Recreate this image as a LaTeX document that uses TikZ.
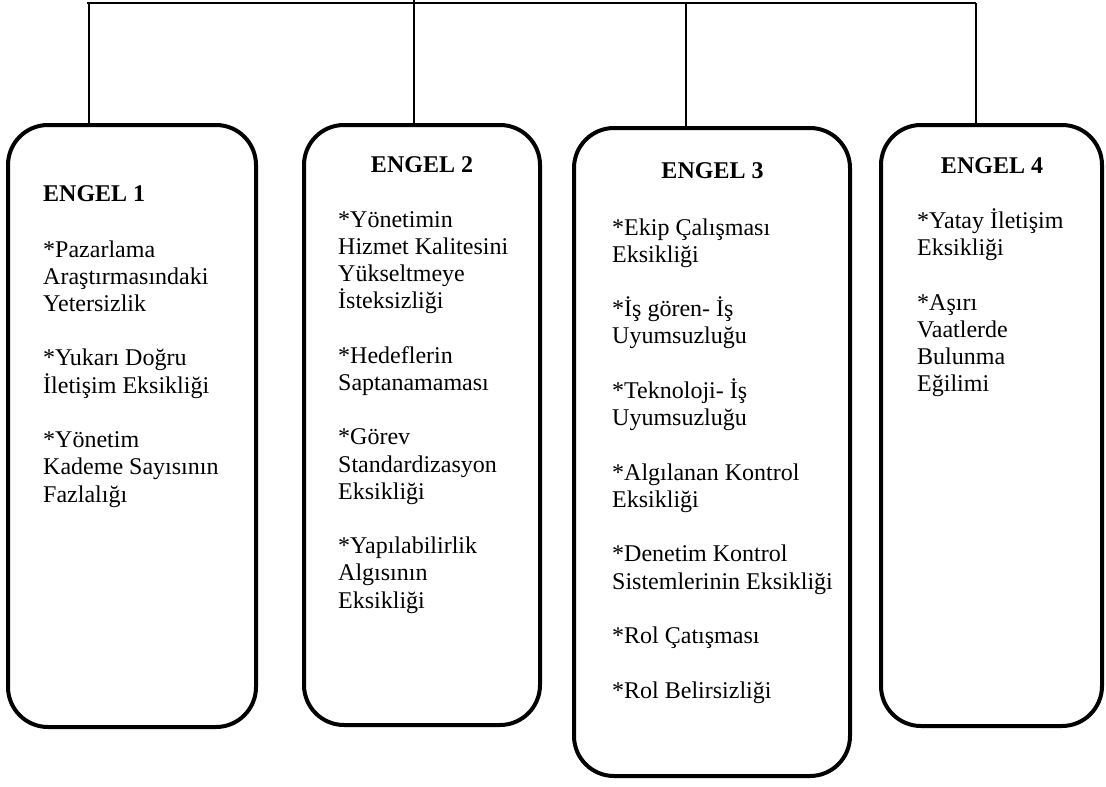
\documentclass[tikz,border=0pt]{standalone}
\usepackage{fontspec}
\setmainfont{Liberation Serif}
\begin{document}
\begin{tikzpicture}[x=1pt,y=-1pt,
  engelbox/.style={draw, line width=4pt, rounded corners=40pt, inner sep=0pt},
  link/.style={line width=1.3pt},
  heading/.style={font=\fontsize{24}{27.2}\selectfont\bfseries, inner sep=0pt},
  items/.style={font=\fontsize{24}{27.2}\selectfont, inner sep=0pt, anchor=base west}]
\useasboundingbox (0,0) rectangle (1106,787);

% the four boxes
\node[engelbox, minimum width=248pt, minimum height=602pt] (b1) at (132,426) {};
\node[engelbox, minimum width=236pt, minimum height=600pt] (b2) at (422,425) {};
\node[engelbox, minimum width=276pt, minimum height=648pt] (b3) at (712,452) {};
\node[engelbox, minimum width=221pt, minimum height=601pt] (b4) at (991.5,425.5) {};

% connecting bar along the top
\coordinate (tl) at (87,3);
\coordinate (tr) at (976,3);
\coordinate (t1) at (89,3);
\coordinate (t2) at (414,0);
\coordinate (t3) at (686,3);
\coordinate (t4) at (976,3);
\draw[link] (tl) -- (tr);
\draw[link] (t1) -- (t1 |- b1.north);
\draw[link] (t2) -- (t2 |- b2.north);
\draw[link] (t3) -- (t3 |- b3.north);
\draw[link] (t4) -- (t4 |- b4.north);

% headings
\node[heading, anchor=base west] (h1) at (43,201) {ENGEL 1};
\node[heading, anchor=base] (h2) at (422,172) {ENGEL 2};
\node[heading, anchor=base] (h3) at (712.5,178) {ENGEL 3};
\node[heading, anchor=base] (h4) at (992,173) {ENGEL 4};

% item lists
\node[items] (i1) at (43,257) {\parbox[t]{210pt}{\raggedright
*Pazarlama\\ Araştırmasındaki\\ Yetersizlik\\[27.3pt]
*Yukarı Doğru\\ İletişim Eksikliği\\[27.3pt]
*Yönetim\\ Kademe Sayısının\\ Fazlalığı}};

\node[items] (i2) at (338,227) {\parbox[t]{200pt}{\raggedright
*Yönetimin\\ Hizmet Kalitesini\\ Yükseltmeye\\ İsteksizliği\\[27.3pt]
*Hedeflerin\\ Saptanamaması\\[27.3pt]
*Görev\\ Standardizasyon\\ Eksikliği\\[27.3pt]
*Yapılabilirlik\\ Algısının\\ Eksikliği}};

\node[items] (i3) at (612,235) {\parbox[t]{236pt}{\raggedright
*Ekip Çalışması\\ Eksikliği\\[27.3pt]
*İş gören- İş\\ Uyumsuzluğu\\[27.3pt]
*Teknoloji- İş\\ Uyumsuzluğu\\[27.3pt]
*Algılanan Kontrol\\ Eksikliği\\[27.3pt]
*Denetim Kontrol\\ Sistemlerinin Eksikliği\\[27.3pt]
*Rol Çatışması\\[27.3pt]
*Rol Belirsizliği}};

\node[items] (i4) at (917,228.5) {\parbox[t]{180pt}{\raggedright
*Yatay İletişim\\ Eksikliği\\[27.3pt]
*Aşırı\\ Vaatlerde\\ Bulunma\\ Eğilimi}};
\end{tikzpicture}
\end{document}
